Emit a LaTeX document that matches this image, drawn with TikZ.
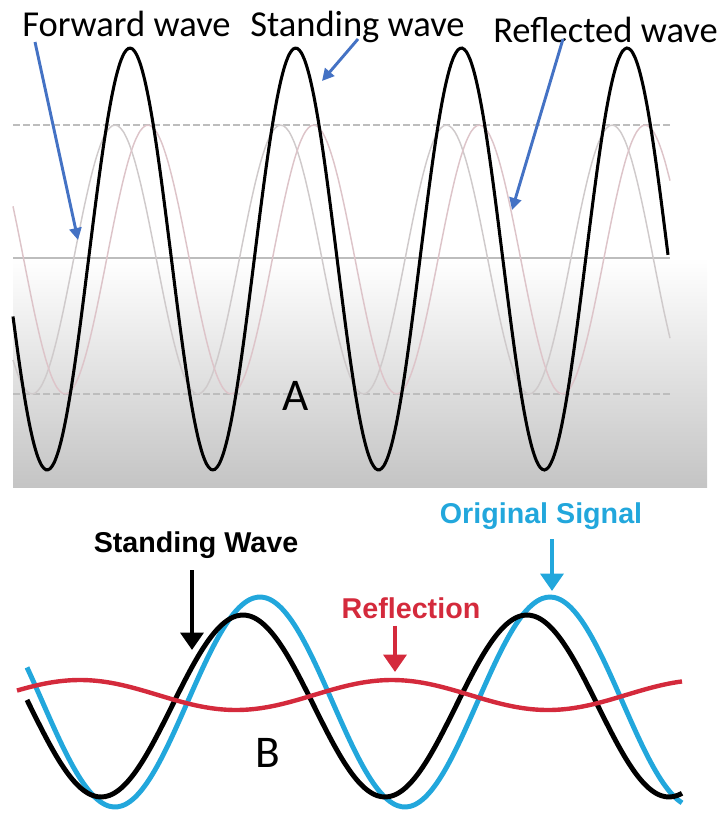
\documentclass[tikz,border=0pt]{standalone}
\usepackage{fontspec}
\setmainfont{Carlito}
\newfontfamily\tagfont{Liberation Sans}
\usepackage{tikz}
\usetikzlibrary{arrows.meta,calc}
\definecolor{pointer}{HTML}{4472C4}
\definecolor{guidegray}{HTML}{BDBDBD}
\definecolor{fwdgray}{HTML}{CFCACB}
\definecolor{refpink}{HTML}{DDC4C9}
\definecolor{sigblue}{HTML}{22A7DC}
\definecolor{reflred}{HTML}{D42A3C}
\tikzset{
  guide/.style={draw=guidegray, line width=1.1pt},
  guidedash/.style={guide, dash pattern=on 5pt off 2.5pt},
  faint/.style={line width=1.1pt, smooth, samples=120},
  standing/.style={draw=black, line width=2.3pt, smooth, samples=160},
  toplbl/.style={font=\fontsize{27.4}{30}\selectfont, anchor=base west, inner sep=0pt},
  panellbl/.style={font=\fontsize{34}{38}\selectfont, anchor=base west, inner sep=0pt},
  siglbl/.style={font=\tagfont\bfseries\fontsize{21.5}{24}\selectfont, anchor=base, inner sep=0pt},
  pointto/.style={-{Triangle[length=9pt,width=9pt]}, draw=pointer, line width=2.2pt},
  bigarrow/.style={-{Triangle[length=13pt,width=17pt]}, line width=3.6pt},
  thickwave/.style={line width=3.7pt, smooth, samples=160}
}
\begin{document}
\begin{tikzpicture}[x=0.75pt, y=-0.75pt]
  \useasboundingbox (0,0) rectangle (721,814);

  % panel A
  \shade[top color=white, bottom color=black!23] (13,258) rectangle (707,487);
  \draw[guidedash] (13,125) -- (670,125);
  \draw[guide] (13,258) -- (670,258);
  \draw[guidedash] (13,394) -- (670,394);
  \draw[faint, draw=fwdgray] plot[domain=13:670] (\x,{259.5-134.5*cos((\x-115)*2.1726)});
  \draw[faint, draw=refpink] plot[domain=13:670] (\x,{259.5-134.5*cos((\x-148)*2.1726)});
  \draw[standing] plot[domain=13:668] (\x,{259-211*cos((\x-130)*2.1726)});

  \node[toplbl] (fwd) at (22,36) {Forward wave};
  \node[toplbl] (stand) at (250,36) {Standing wave};
  \node[toplbl] (refl) at (493,42) {Reflected wave};
  \node[panellbl] (lblA) at (282,410) {A};

  \coordinate (fwdtip) at (78,240);
  \coordinate (standtip) at (322,81);
  \coordinate (refltip) at (512,210);
  \draw[pointto] ($(fwd.base west)+(13,6)$) -- (fwdtip);
  \draw[pointto] ($(stand.base west)+(108,3)$) -- (standtip);
  \draw[pointto] ($(refl.base west)+(70,-3)$) -- (refltip);

  % panel B
  \draw[thickwave, draw=sigblue] plot[domain=27:682] (\x,{702-105*cos((\x-260)*1.24138)});
  \draw[thickwave, draw=black] plot[domain=27:682] (\x,{706-91*cos((\x-243)*1.26761)});
  \draw[thickwave, draw=reflred, line width=3.3pt] plot[domain=17:682] (\x,{695-15*cos((\x-80)*1.15385)});

  \node[siglbl] (swave) at (196,552) {Standing Wave};
  \node[siglbl, text=sigblue] (orig) at (541,523) {Original Signal};
  \node[siglbl, text=reflred] (reflB) at (411,618) {Reflection};
  \node[panellbl] (lblB) at (255,767) {B};

  \coordinate (swavetip) at (192,650);
  \coordinate (origtip) at (552,591);
  \coordinate (refltipB) at (395,672);
  \draw[bigarrow, draw=black, fill=black] (swave.south -| swavetip) ++(0,12) -- (swavetip);
  \draw[bigarrow, draw=sigblue, fill=sigblue] (orig.south -| origtip) ++(0,10) -- (origtip);
  \draw[bigarrow, draw=reflred, fill=reflred] (reflB.south -| refltipB) ++(0,7) -- (refltipB);
\end{tikzpicture}
\end{document}
